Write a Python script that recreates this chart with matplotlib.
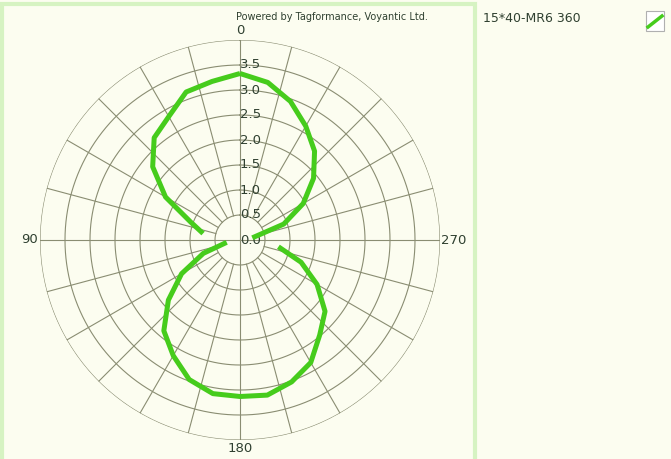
import numpy as np
import matplotlib
matplotlib.use("Agg")
import matplotlib.pyplot as plt
from matplotlib.lines import Line2D
from matplotlib.patches import Rectangle

# angle (deg) / read range (m); no reading at 90 and 270
angles = [0, 10, 20, 30, 40, 50, 60, 70, 80, 90,
          100, 110, 120, 130, 140, 150, 160, 170, 180,
          190, 200, 210, 220, 230, 240, 250, 260, 270,
          280, 290, 300, 310, 320, 330, 340, 350, 360]
ranges = [3.33, 3.22, 3.15, 2.85, 2.67, 2.28, 1.72, 1.05, 0.75, np.nan,
          0.27, 0.78, 1.35, 1.87, 2.37, 2.67, 2.97, 3.12, 3.13,
          3.15, 3.02, 2.83, 2.48, 2.22, 1.78, 1.30, 0.78, np.nan,
          0.25, 0.93, 1.46, 1.92, 2.32, 2.63, 2.95, 3.20, 3.33]
series_name = "15*40-MR6 360"
ring_values = [0.5, 1.0, 1.5, 2.0, 2.5, 3.0, 3.5, 4.0]
radial_labels = [0.0, 0.5, 1.0, 1.5, 2.0, 2.5, 3.0, 3.5]
angle_labels = {0: "0", 90: "90", 180: "180", 270: "270"}

bg = "#fcfdf0"
grid_c = "#8a8d72"
text_c = "#2f4030"
line_c = "#46cc1c"
rmax = 4.0

W, H = 671, 459
fig = plt.figure(figsize=(W / 100, H / 100), dpi=100, facecolor=bg)

# light green panel frame
fig.patches.append(Rectangle((1.5 / W, -0.05), 473.5 / W, (H - 4) / H + 0.05,
                             transform=fig.transFigure, fill=False,
                             edgecolor="#d6f3c2", lw=3))

cx, cy, rad = 240, H - 240, 200
ax = fig.add_axes([(cx - rad) / W, (cy - rad) / H, 2 * rad / W, 2 * rad / H],
                  projection="polar")
ax.set_facecolor(bg)
ax.set_theta_zero_location("N")
ax.set_theta_direction(1)
ax.set_ylim(0, rmax)
ax.grid(False)
ax.set_xticks([])
ax.set_yticks([])
ax.spines["polar"].set_visible(False)

t = np.linspace(0, 2 * np.pi, 361)
for r in ring_values:
    ax.plot(t, np.full_like(t, r), color=grid_c, lw=0.8, zorder=1)
for a in range(0, 360, 15):
    r0 = 0 if a % 90 == 0 else 0.5
    ax.plot([np.radians(a)] * 2, [r0, rmax], color=grid_c, lw=0.8, zorder=1)

for v in radial_labels:
    ax.text(0, v, f"{v:.1f}", ha="left", va="center", fontsize=9.5,
            color=text_c, zorder=2)

ax.text(0, rmax + 0.05, angle_labels[0], ha="center", va="bottom",
        fontsize=9.5, color=text_c)
ax.text(np.radians(90), rmax + 0.04, angle_labels[90], ha="right",
        va="center", fontsize=9.5, color=text_c)
ax.text(np.radians(180), rmax + 0.05, angle_labels[180], ha="center",
        va="top", fontsize=9.5, color=text_c)
ax.text(np.radians(270), rmax + 0.02, angle_labels[270], ha="left",
        va="center", fontsize=9.5, color=text_c)

ax.plot(np.radians(angles), ranges, color=line_c, lw=3.6,
        solid_capstyle="butt", solid_joinstyle="round", zorder=3)

fig.text(332 / W, 1 - 17 / H, "Powered by Tagformance, Voyantic Ltd.",
         ha="center", va="center", fontsize=7, color=text_c)

# legend
fig.text(483 / W, 1 - 18 / H, series_name, ha="left", va="center",
         fontsize=9, color=text_c)
fig.patches.append(Rectangle((646 / W, 1 - 31 / H), 18 / W, 20 / H,
                             transform=fig.transFigure, facecolor="white",
                             edgecolor="#b0b0b0", lw=0.8))
fig.lines.append(Line2D([648 / W, 662 / W], [1 - 27 / H, 1 - 16 / H],
                        transform=fig.transFigure, color=line_c, lw=2.5))

fig.savefig("out.png", dpi=100, facecolor=bg)
